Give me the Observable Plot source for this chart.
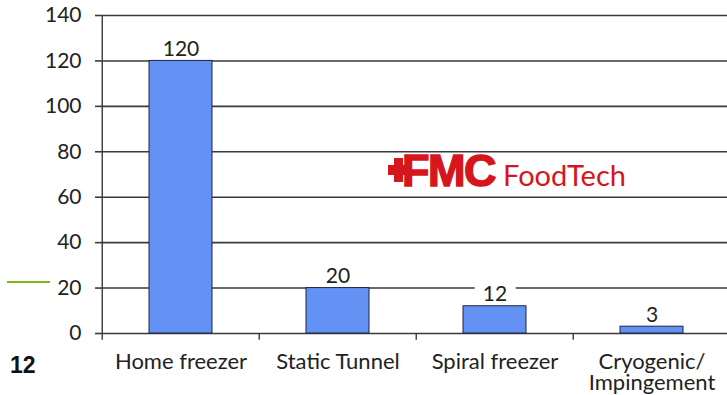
<!DOCTYPE html>
<html>
<head>
<meta charset="utf-8">
<script src="https://cdn.jsdelivr.net/npm/d3@7"></script>
<script src="https://cdn.jsdelivr.net/npm/@observablehq/plot@0.6"></script>
<style>
  html, body { margin: 0; padding: 0; background: #fff; }
  #wrap { position: relative; width: 727px; height: 395px; overflow: hidden; }
  #slide-no { position: absolute; left: 10px; top: 352px; font: bold 23px "Liberation Sans", Arial, sans-serif; color: #111; }
  #accent { position: absolute; left: 7px; top: 281px; width: 43px; height: 2px; background: #7cb80f; }
  #logo { position: absolute; left: 384px; top: 148px; overflow: visible; }
</style>
</head>
<body>
<div id="wrap">
  <div id="accent"></div>
  <div id="slide-no">12</div>
  <div id="chart"></div>
  <svg id="logo" width="300" height="56" viewBox="0 0 300 56">
    <g fill="#d6161d">
      <rect x="4" y="17" width="20" height="10"></rect>
      <rect x="10" y="10" width="9" height="24"></rect>
      <text x="18" y="38" font-family="Liberation Sans, Arial, sans-serif" font-weight="bold" font-size="45" letter-spacing="-1.5" stroke="#d6161d" stroke-width="1.5">FMC</text>
      <text x="119" y="38" font-family="Lato, sans-serif" font-size="29">FoodTech</text>
    </g>
  </svg>
</div>
<script>
// Freezer types and their values
const categories = ["Home freezer", "Static Tunnel", "Spiral freezer", "Cryogenic/\nImpingement"];
const values = [120, 20, 12, 3];
const yTicks = [0, 20, 40, 60, 80, 100, 120, 140];

const data = categories.map((c, i) => ({category: c, value: values[i]}));

const left = 101, right = 731;
const step = (right - left) / categories.length;

const chart = Plot.plot({
  width: 727,
  height: 395,
  marginLeft: left,
  marginRight: 0,
  marginTop: 15,
  marginBottom: 62,
  style: {fontFamily: "Lato, sans-serif", fontSize: "21px", color: "#222", background: "transparent"},
  x: {domain: categories, range: [left, right], paddingInner: 0.6, paddingOuter: 0.3, label: null},
  y: {domain: [0, 140], label: null},
  marks: [
    // horizontal gridlines
    Plot.ruleY(yTicks, {stroke: "#3a3a3a", strokeWidth: 1.6}),
    // white backing behind the value labels
    Plot.text(data, {x: "category", y: "value", text: d => String(d.value), lineAnchor: "bottom", dy: -5,
      fontSize: 21, fill: "white", stroke: "white", strokeWidth: 20, strokeLinejoin: "round"}),
    Plot.barY(data, {x: "category", y: "value", fill: "#6391f4", stroke: "#1f2540", strokeWidth: 1}),
    // value labels
    Plot.text(data, {x: "category", y: "value", text: d => String(d.value), lineAnchor: "bottom", dy: -5, fontSize: 21, fill: "#222"}),
    // vertical axis line
    Plot.ruleX([categories[0]], {y1: -3, y2: 140, dx: -step / 2, stroke: "#3a3a3a", strokeWidth: 1.4}),
    // category boundary ticks
    Plot.ruleX(categories.slice(1), {y1: -3, y2: 0, dx: -step / 2, stroke: "#3a3a3a", strokeWidth: 1.4}),
    Plot.axisY(yTicks, {tickSize: 6, tickPadding: 14, stroke: "#3a3a3a", strokeWidth: 1.6, fill: "#222", fontSize: 21}),
    Plot.axisX({tickSize: 0, tickPadding: 20, fill: "#222", fontSize: 22, lineHeight: 0.98})
  ]
});

document.getElementById("chart").appendChild(chart);
</script>
</body>
</html>
